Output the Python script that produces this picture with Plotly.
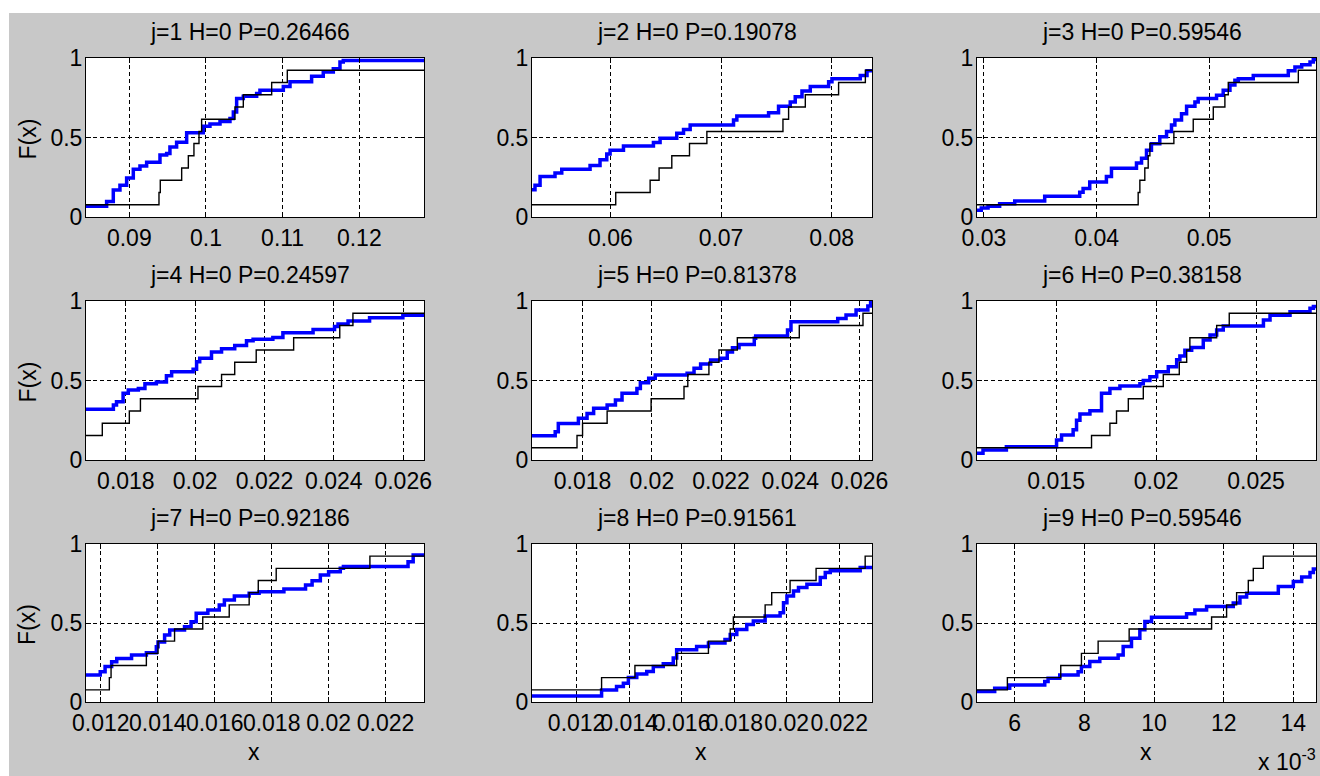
import plotly.graph_objects as go

# ---------------- data ----------------
TITLES = ["j=1 H=0 P=0.26466", "j=2 H=0 P=0.19078", "j=3 H=0 P=0.59546",
          "j=4 H=0 P=0.24597", "j=5 H=0 P=0.81378", "j=6 H=0 P=0.38158",
          "j=7 H=0 P=0.92186", "j=8 H=0 P=0.91561", "j=9 H=0 P=0.59546"]

Y_TICKS = [0, 0.5, 1]
Y_TICKTEXT = ["0", "0.5", "1"]

P1_TICKS = [0.09, 0.10, 0.11, 0.12]
P1_TICKTEXT = ["0.09", "0.1", "0.11", "0.12"]
P2_TICKS = [0.06, 0.07, 0.08]
P2_TICKTEXT = ["0.06", "0.07", "0.08"]
P3_TICKS = [0.03, 0.04, 0.05]
P3_TICKTEXT = ["0.03", "0.04", "0.05"]
P45_TICKS = [0.018, 0.020, 0.022, 0.024, 0.026]
P45_TICKTEXT = ["0.018", "0.02", "0.022", "0.024", "0.026"]
P6_TICKS = [0.015, 0.020, 0.025]
P6_TICKTEXT = ["0.015", "0.02", "0.025"]
P78_TICKS = [0.012, 0.014, 0.016, 0.018, 0.020, 0.022]
P78_TICKTEXT = ["0.012", "0.014", "0.016", "0.018", "0.02", "0.022"]
P9_TICKS = [0.006, 0.008, 0.010, 0.012, 0.014]
P9_TICKTEXT = ["6", "8", "10", "12", "14"]

ECDF13_Y = [0.077, 0.154, 0.231, 0.308, 0.385, 0.462, 0.538, 0.615,
            0.692, 0.769, 0.846, 0.923, 0.923]

P1_BLACK_X = [0.08435, 0.09387, 0.09404, 0.09683, 0.09770, 0.09843, 0.09909,
              0.09943, 0.10378, 0.10487, 0.10857, 0.11061, 0.12844]
P1_BLACK_Y = ECDF13_Y
P1_BLUE_X = [0.08435, 0.08704, 0.08791, 0.08878, 0.08965, 0.09052, 0.09139, 0.09226,
             0.09400, 0.09487, 0.09530, 0.09617, 0.09748, 0.09965, 0.10052, 0.10183,
             0.10313, 0.10357, 0.10400, 0.10487, 0.10661, 0.10704, 0.11009, 0.11096,
             0.11378, 0.11530, 0.11661, 0.11748, 0.11791, 0.12844]
P1_BLUE_Y = [0.067, 0.098, 0.17, 0.20, 0.245, 0.30, 0.32, 0.345, 0.39, 0.40, 0.44,
             0.47, 0.53, 0.57, 0.585, 0.60, 0.62, 0.66, 0.745, 0.76, 0.776, 0.797,
             0.82, 0.85, 0.885, 0.912, 0.933, 0.975, 0.985, 0.985]

P2_BLACK_X = [0.05291, 0.06048, 0.06359, 0.06440, 0.06555, 0.06715, 0.06872,
              0.07560, 0.07611, 0.07762, 0.08063, 0.08305, 0.08365]
P2_BLACK_Y = ECDF13_Y
P2_BLUE_X = [0.05291, 0.05318, 0.05364, 0.05499, 0.05560, 0.05816, 0.05906, 0.05967,
             0.05997, 0.06118, 0.06389, 0.06449, 0.06600, 0.06661, 0.06721, 0.07113,
             0.07143, 0.07430, 0.07520, 0.07626, 0.07671, 0.07732, 0.07807, 0.07973,
             0.08003, 0.08259, 0.08320, 0.08365]
P2_BLUE_Y = [0.171, 0.20, 0.255, 0.276, 0.30, 0.324, 0.36, 0.397, 0.42, 0.447, 0.468,
             0.495, 0.526, 0.55, 0.578, 0.61, 0.635, 0.656, 0.697, 0.724, 0.756, 0.793,
             0.82, 0.85, 0.87, 0.89, 0.92, 0.92]

P3_BLACK_X = [0.02938, 0.04369, 0.04384, 0.04428, 0.04458, 0.04473, 0.04686,
              0.04858, 0.05036, 0.05139, 0.05169, 0.05791, 0.05948]
P3_BLACK_Y = ECDF13_Y
P3_BLUE_X = [0.02938, 0.02976, 0.03036, 0.03139, 0.03273, 0.03539, 0.03850, 0.03880,
             0.03939, 0.04087, 0.04132, 0.04354, 0.04399, 0.04443, 0.04487, 0.04561,
             0.04621, 0.04665, 0.04695, 0.04754, 0.04799, 0.04873, 0.04902, 0.05065,
             0.05124, 0.05184, 0.05228, 0.05258, 0.05391, 0.05702, 0.05761, 0.05821,
             0.05895, 0.05924, 0.05948]
P3_BLUE_Y = [0.042, 0.056, 0.067, 0.083, 0.10, 0.13, 0.155, 0.18, 0.22, 0.255, 0.307,
             0.34, 0.37, 0.42, 0.46, 0.505, 0.537, 0.578, 0.61, 0.65, 0.697, 0.724,
             0.745, 0.766, 0.797, 0.83, 0.86, 0.87, 0.89, 0.92, 0.944, 0.958, 0.975,
             0.99, 0.99]

P4_BLACK_X = [0.01685, 0.01732, 0.01810, 0.01842, 0.02008, 0.02076, 0.02114,
              0.02176, 0.02284, 0.02417, 0.02455, 0.02660]
P4_BLACK_Y = [0.154, 0.231, 0.308, 0.385, 0.462, 0.538, 0.615, 0.692, 0.769,
              0.846, 0.923, 0.923]
P4_BLUE_X = [0.01685, 0.01764, 0.01773, 0.01792, 0.01807, 0.01836, 0.01855, 0.01888,
             0.01917, 0.01932, 0.01994, 0.02004, 0.02013, 0.02047, 0.02076, 0.02114,
             0.02148, 0.02167, 0.02224, 0.02253, 0.02340, 0.02402, 0.02412, 0.02441,
             0.02503, 0.02599, 0.02660]
P4_BLUE_Y = [0.319, 0.346, 0.367, 0.42, 0.44, 0.45, 0.48, 0.49, 0.53, 0.555, 0.57,
             0.618, 0.64, 0.68, 0.70, 0.72, 0.75, 0.76, 0.77, 0.80, 0.82, 0.84, 0.855,
             0.874, 0.895, 0.91, 0.91]

P5_BLACK_X = [0.01654, 0.01784, 0.01800, 0.01871, 0.01998, 0.02093, 0.02104,
              0.02165, 0.02194, 0.02247, 0.02426, 0.02610, 0.02636]
P5_BLACK_Y = ECDF13_Y
P5_BLUE_X = [0.01654, 0.01721, 0.01730, 0.01788, 0.01813, 0.01832, 0.01871, 0.01895,
             0.01914, 0.01957, 0.01967, 0.01991, 0.02010, 0.02102, 0.02122, 0.02141,
             0.02170, 0.02199, 0.02218, 0.02233, 0.02252, 0.02296, 0.02300, 0.02392,
             0.02402, 0.02537, 0.02561, 0.02590, 0.02624, 0.02632, 0.02636]
P5_BLUE_Y = [0.153, 0.178, 0.23, 0.262, 0.293, 0.325, 0.346, 0.377, 0.42, 0.45, 0.486,
             0.514, 0.535, 0.545, 0.577, 0.604, 0.629, 0.64, 0.68, 0.706, 0.727, 0.765,
             0.78, 0.818, 0.87, 0.89, 0.912, 0.943, 0.968, 0.99, 0.99]

P6_BLACK_X = [0.01104, 0.01677, 0.01769, 0.01802, 0.01861, 0.01936, 0.02036,
              0.02116, 0.02153, 0.02169, 0.02303, 0.02366, 0.02800]
P6_BLACK_Y = ECDF13_Y
P6_BLUE_X = [0.01104, 0.01134, 0.01251, 0.01502, 0.01527, 0.01585, 0.01602, 0.01619,
             0.01669, 0.01727, 0.01769, 0.01819, 0.01919, 0.01936, 0.01969, 0.02003,
             0.02061, 0.02103, 0.02119, 0.02144, 0.02178, 0.02236, 0.02270, 0.02303,
             0.02336, 0.02537, 0.02570, 0.02670, 0.02770, 0.02787, 0.02800]
P6_BLUE_Y = [0.042, 0.063, 0.084, 0.126, 0.157, 0.19, 0.25, 0.29, 0.31, 0.42, 0.45,
             0.465, 0.48, 0.50, 0.524, 0.555, 0.587, 0.63, 0.654, 0.69, 0.707, 0.755,
             0.786, 0.818, 0.843, 0.88, 0.91, 0.933, 0.954, 0.965, 0.965]

P7_BLACK_X = [0.01148, 0.01230, 0.01236, 0.01360, 0.01401, 0.01459, 0.01558,
              0.01651, 0.01721, 0.01753, 0.01816, 0.02145, 0.02335]
P7_BLACK_Y = ECDF13_Y
P7_BLUE_X = [0.01148, 0.01198, 0.01215, 0.01238, 0.01256, 0.01308, 0.01360, 0.01395,
             0.01401, 0.01424, 0.01442, 0.01494, 0.01517, 0.01535, 0.01576, 0.01616,
             0.01634, 0.01669, 0.01721, 0.01756, 0.01843, 0.01919, 0.01942, 0.01971,
             0.02000, 0.02041, 0.02052, 0.02279, 0.02297, 0.02335]
P7_BLUE_Y = [0.171, 0.192, 0.224, 0.255, 0.276, 0.297, 0.312, 0.35, 0.38, 0.424, 0.456,
             0.477, 0.508, 0.561, 0.582, 0.614, 0.646, 0.671, 0.688, 0.698, 0.715, 0.74,
             0.768, 0.804, 0.825, 0.846, 0.857, 0.888, 0.93, 0.93]

P8_BLACK_X = [0.01030, 0.01295, 0.01422, 0.01581, 0.01702, 0.01785, 0.01797,
              0.01918, 0.01943, 0.02013, 0.02112, 0.02299, 0.02325]
P8_BLACK_Y = ECDF13_Y
P8_BLUE_X = [0.01030, 0.01295, 0.01352, 0.01378, 0.01397, 0.01429, 0.01467, 0.01492,
             0.01530, 0.01568, 0.01581, 0.01657, 0.01702, 0.01765, 0.01785, 0.01810,
             0.01848, 0.01873, 0.01918, 0.01975, 0.01988, 0.02001, 0.02026, 0.02045,
             0.02077, 0.02128, 0.02147, 0.02166, 0.02280, 0.02325]
P8_BLUE_Y = [0.038, 0.076, 0.098, 0.119, 0.155, 0.178, 0.193, 0.225, 0.242, 0.278, 0.331,
             0.352, 0.374, 0.395, 0.427, 0.459, 0.49, 0.512, 0.544, 0.565, 0.628, 0.671,
             0.703, 0.724, 0.745, 0.788, 0.82, 0.83, 0.851, 0.851]

P9_BLACK_X = [0.004917, 0.005789, 0.007322, 0.007916, 0.008395, 0.009286, 0.011653,
              0.012084, 0.012371, 0.012707, 0.012850, 0.013138, 0.014651]
P9_BLACK_Y = ECDF13_Y
P9_BLUE_X = [0.004917, 0.005425, 0.005856, 0.006862, 0.006958, 0.007293, 0.007820,
             0.007916, 0.008156, 0.008443, 0.008970, 0.009114, 0.009353, 0.009593,
             0.009737, 0.009928, 0.010934, 0.011174, 0.011509, 0.012275, 0.012467,
             0.012659, 0.013569, 0.014000, 0.014240, 0.014479, 0.014575, 0.014651]
P9_BLUE_Y = [0.066, 0.087, 0.108, 0.129, 0.15, 0.171, 0.192, 0.224, 0.256, 0.277, 0.298,
             0.351, 0.404, 0.457, 0.51, 0.537, 0.558, 0.583, 0.605, 0.626, 0.664, 0.689,
             0.731, 0.763, 0.791, 0.82, 0.841, 0.841]

PANELS = [
    (P1_BLACK_X, P1_BLACK_Y, P1_BLUE_X, P1_BLUE_Y, P1_TICKS, P1_TICKTEXT),
    (P2_BLACK_X, P2_BLACK_Y, P2_BLUE_X, P2_BLUE_Y, P2_TICKS, P2_TICKTEXT),
    (P3_BLACK_X, P3_BLACK_Y, P3_BLUE_X, P3_BLUE_Y, P3_TICKS, P3_TICKTEXT),
    (P4_BLACK_X, P4_BLACK_Y, P4_BLUE_X, P4_BLUE_Y, P45_TICKS, P45_TICKTEXT),
    (P5_BLACK_X, P5_BLACK_Y, P5_BLUE_X, P5_BLUE_Y, P45_TICKS, P45_TICKTEXT),
    (P6_BLACK_X, P6_BLACK_Y, P6_BLUE_X, P6_BLUE_Y, P6_TICKS, P6_TICKTEXT),
    (P7_BLACK_X, P7_BLACK_Y, P7_BLUE_X, P7_BLUE_Y, P78_TICKS, P78_TICKTEXT),
    (P8_BLACK_X, P8_BLACK_Y, P8_BLUE_X, P8_BLUE_Y, P78_TICKS, P78_TICKTEXT),
    (P9_BLACK_X, P9_BLACK_Y, P9_BLUE_X, P9_BLUE_Y, P9_TICKS, P9_TICKTEXT),
]

# ---------------- layout geometry (page pixels) ----------------
W, H = 1320, 776
COLS = [(86, 424), (532, 872), (977, 1316)]
ROWS = [(58, 217), (301, 460), (544, 702)]
TITLE_X = [250, 697, 1142]
FONT = "Liberation Sans, Arial, sans-serif"
FS = 23
BG = "#c8c8c8"


def px(xp):
    return xp / W


def py(yp):
    return 1 - yp / H


fig = go.Figure()
layout = dict(
    template="none",
    width=W, height=H, margin=dict(l=0, r=0, t=0, b=0, pad=0, autoexpand=False),
    paper_bgcolor=BG, plot_bgcolor="white", showlegend=False,
    font=dict(family=FONT, size=FS, color="black"),
)
annotations = []

for i, (kx, ky, bx, by, tv, tt) in enumerate(PANELS):
    r, c = divmod(i, 3)
    k = i + 1
    xa = "x" if k == 1 else f"x{k}"
    ya = "y" if k == 1 else f"y{k}"
    fig.add_trace(go.Scatter(x=bx, y=by, mode="lines", xaxis=xa, yaxis=ya,
                             line=dict(color="#0000ff", width=3.5, shape="hv"),
                             hoverinfo="skip"))
    fig.add_trace(go.Scatter(x=kx, y=ky, mode="lines", xaxis=xa, yaxis=ya,
                             line=dict(color="black", width=1.4, shape="hv"),
                             hoverinfo="skip"))
    x0, x1 = COLS[c]
    y0, y1 = ROWS[r]
    common = dict(showgrid=True, gridcolor="black", griddash="4px,3px", gridwidth=1,
                  showline=True, linecolor="black", linewidth=1, mirror="ticks",
                  ticks="inside", ticklen=5, tickcolor="black", tickwidth=1,
                  zeroline=False, tickangle=0, fixedrange=True, automargin=False,
                  tickfont=dict(family=FONT, size=FS, color="black"))
    layout["xaxis" if k == 1 else f"xaxis{k}"] = dict(
        common, domain=[px(x0), px(x1)], anchor=ya,
        range=[bx[0], bx[-1]], tickmode="array", tickvals=tv, ticktext=tt)
    layout["yaxis" if k == 1 else f"yaxis{k}"] = dict(
        common, domain=[py(y1), py(y0)], anchor=xa, ticklabelstandoff=-2,
        range=[0, 1], tickmode="array", tickvals=Y_TICKS, ticktext=Y_TICKTEXT)
    annotations.append(dict(text=TITLES[i], x=px(TITLE_X[c]), y=py(y0 - 26),
                            xref="paper", yref="paper", showarrow=False,
                            xanchor="center", yanchor="middle",
                            font=dict(family=FONT, size=FS, color="black")))
    if c == 0:
        annotations.append(dict(text="F(x)", x=px(27), y=py((y0 + y1) / 2 + 2),
                                xref="paper", yref="paper", showarrow=False,
                                textangle=-90, xanchor="center", yanchor="middle",
                                font=dict(family=FONT, size=FS, color="black")))
    if r == 2:
        annotations.append(dict(text="x", x=px((x0 + x1) / 2 - 1), y=py(752),
                                xref="paper", yref="paper", showarrow=False,
                                xanchor="center", yanchor="middle",
                                font=dict(family=FONT, size=FS, color="black")))

annotations.append(dict(text="x 10<sup>-3</sup>", x=px(1317), y=py(776),
                        xref="paper", yref="paper", showarrow=False,
                        xanchor="right", yanchor="bottom", borderpad=0,
                        font=dict(family=FONT, size=FS, color="black")))
layout["annotations"] = annotations
layout["shapes"] = [
    dict(type="rect", xref="paper", yref="paper", x0=0, x1=px(9), y0=0, y1=1,
         fillcolor="white", line=dict(width=0), layer="below"),
    dict(type="rect", xref="paper", yref="paper", x0=0, x1=1, y0=py(13), y1=1,
         fillcolor="white", line=dict(width=0), layer="below"),
]
fig.update_layout(**layout)
fig.write_html("out.html",
               config={"displayModeBar": False},
               post_script="document.body.style.margin='0';"
                           "document.body.style.overflow='hidden';")
